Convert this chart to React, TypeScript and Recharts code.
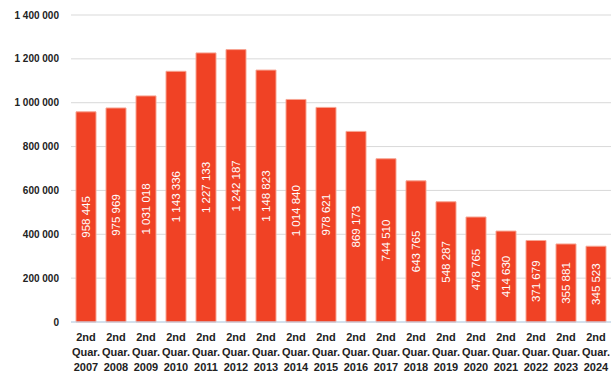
import React from 'react';
import { BarChart, Bar, XAxis, YAxis, CartesianGrid, LabelList } from 'recharts';

const years = [
  '2007', '2008', '2009', '2010', '2011', '2012', '2013', '2014', '2015',
  '2016', '2017', '2018', '2019', '2020', '2021', '2022', '2023', '2024',
];
const values = [
  958445, 975969, 1031018, 1143336, 1227133, 1242187, 1148823, 1014840, 978621,
  869173, 744510, 643765, 548287, 478765, 414630, 371679, 355881, 345523,
];
const yTicks = [0, 200000, 400000, 600000, 800000, 1000000, 1200000, 1400000];

const data = years.map((y, i) => ({ year: y, value: values[i] }));

const fmt = (n: number) => String(n).replace(/\B(?=(\d{3})+(?!\d))/g, ' ');

const FONT = '"Liberation Sans", Arial, sans-serif';

// three-line category label: "2nd / Quar. / year"
const XTick = (props: any) => {
  const { x, y, payload } = props;
  const lines = ['2nd', 'Quar.', payload.value];
  return (
    <g>
      {lines.map((t, i) => (
        <text
          key={i}
          x={x}
          y={y + 11 + i * 15}
          textAnchor="middle"
          fontFamily={FONT}
          fontWeight="bold"
          fontSize={11}
          fill="#222"
        >
          {t}
        </text>
      ))}
    </g>
  );
};

const BarValue = (props: any) => {
  const { x, y, width, height, value } = props;
  const cx = x + width / 2;
  const cy = y + height / 2;
  return (
    <text
      x={cx}
      y={cy}
      transform={`rotate(-90, ${cx}, ${cy})`}
      textAnchor="middle"
      dominantBaseline="central"
      fontFamily={FONT}
      fontSize={11.5}
      fill="#fff"
    >
      {fmt(value)}
    </text>
  );
};

export default function App() {
  return (
    <div style={{ position: 'absolute', left: 0, top: 0, background: '#fff' }}>
      <BarChart
        width={616}
        height={374}
        data={data}
        margin={{ top: 15, right: 5, bottom: 0, left: 0 }}
        barSize={20}
      >
        <CartesianGrid vertical={false} stroke="#d9d9d9" />
        <XAxis
          dataKey="year"
          height={52}
          interval={0}
          tickLine={false}
          axisLine={{ stroke: '#bcd6ee' }}
          tick={<XTick />}
        />
        <YAxis
          width={71}
          domain={[0, 1400000]}
          ticks={yTicks}
          tickSize={0}
          tickMargin={12}
          axisLine={false}
          tickLine={false}
          tickFormatter={fmt}
          tick={{ fontFamily: FONT, fontWeight: 'bold', fontSize: 10, fill: '#222' }}
        />
        <Bar dataKey="value" fill="#f04225" stroke="#f7a593" strokeWidth={1} isAnimationActive={false}>
          <LabelList dataKey="value" content={<BarValue />} />
        </Bar>
      </BarChart>
    </div>
  );
}
